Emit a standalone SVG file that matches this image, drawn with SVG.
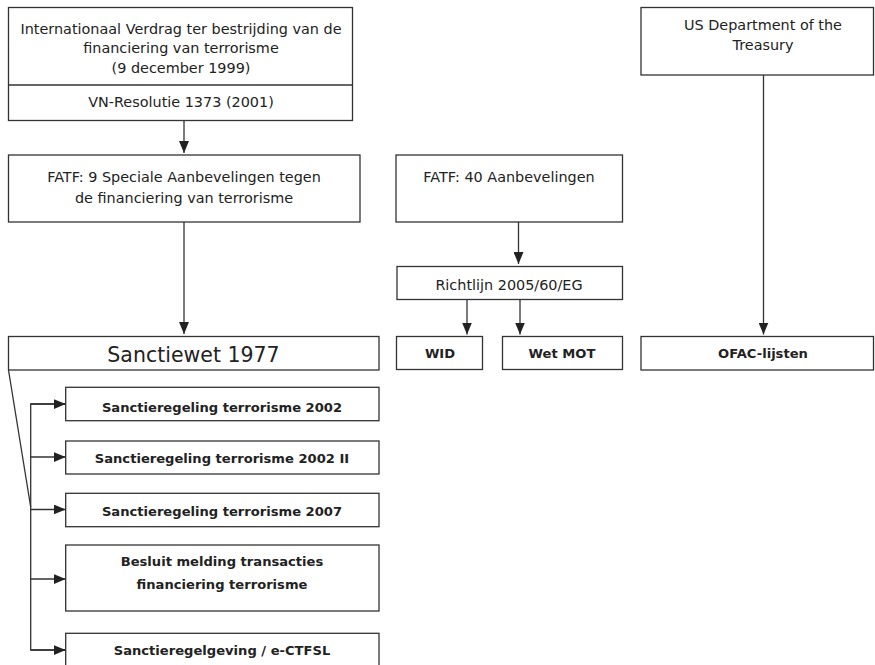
<svg xmlns="http://www.w3.org/2000/svg" width="875" height="665" viewBox="0 0 875 665">
<style>
rect{fill:#fff;stroke:#333;stroke-width:1.3}
text{font-family:"DejaVu Sans","Open Sans",sans-serif;fill:#222;text-anchor:middle;font-size:14.4px}
.b{font-weight:bold;font-size:13.1px}
.big{font-size:20.5px}
.c line,.c path{stroke:#333;stroke-width:1.3;fill:none}
</style>
<defs>
<marker id="ah" viewBox="0 0 12 10" refX="12" refY="5" markerWidth="12" markerHeight="10" markerUnits="userSpaceOnUse" orient="auto">
<path d="M0,0 L12,5 L0,10 Z" fill="#222"/>
</marker>
</defs>
<rect width="875" height="665" style="fill:#fff;stroke:none"/>
<g id="verdrag">
<rect x="8.5" y="7.5" width="344" height="113"/>
<line x1="8.5" y1="85" x2="352.5" y2="85" style="stroke:#333;stroke-width:1.3"/>
<text x="181" y="33.5">Internationaal Verdrag ter bestrijding van de</text>
<text x="181" y="53">financiering van terrorisme</text>
<text x="181" y="72.5">(9 december 1999)</text>
<text x="181" y="107">VN-Resolutie 1373 (2001)</text>
</g>
<g id="fatf9">
<rect x="8.5" y="155" width="351.5" height="67"/>
<text x="184" y="182">FATF: 9 Speciale Aanbevelingen tegen</text>
<text x="184" y="202.5">de financiering van terrorisme</text>
</g>
<g id="fatf40">
<rect x="396" y="155" width="226.5" height="67"/>
<text x="509" y="182">FATF: 40 Aanbevelingen</text>
</g>
<g id="richtlijn">
<rect x="397" y="266.5" width="225.5" height="33"/>
<text x="509" y="289.5">Richtlijn 2005/60/EG</text>
</g>
<g id="treasury">
<rect x="641" y="7.5" width="232.5" height="67.5"/>
<text x="763" y="29.5">US Department of the</text>
<text x="763" y="50">Treasury</text>
</g>
<g id="sanctiewet">
<rect x="8.5" y="336.5" width="370.5" height="33.5"/>
<text class="big" x="193.5" y="361.5">Sanctiewet 1977</text>
</g>
<g id="wid">
<rect x="396.5" y="336.5" width="86" height="33"/>
<text class="b" x="440" y="358">WID</text>
</g>
<g id="wetmot">
<rect x="502.5" y="336.5" width="120" height="33"/>
<text class="b" x="562" y="358">Wet MOT</text>
</g>
<g id="ofac">
<rect x="641" y="336.5" width="232.5" height="33.5"/>
<text class="b" x="763" y="358">OFAC-lijsten</text>
</g>
<g id="sr2002">
<rect x="65.7" y="387.3" width="313.3" height="33.4"/>
<text class="b" x="222" y="411.5">Sanctieregeling terrorisme 2002</text>
</g>
<g id="sr2002ii">
<rect x="65.7" y="441" width="313.3" height="33"/>
<text class="b" x="222" y="462.5">Sanctieregeling terrorisme 2002 II</text>
</g>
<g id="sr2007">
<rect x="65.7" y="493.3" width="313.3" height="33.4"/>
<text class="b" x="222" y="516">Sanctieregeling terrorisme 2007</text>
</g>
<g id="besluit">
<rect x="65.7" y="545" width="313.3" height="66"/>
<text class="b" x="222" y="565.5">Besluit melding transacties</text>
<text class="b" x="222" y="588.5">financiering terrorisme</text>
</g>
<g id="ctfsl">
<rect x="65.7" y="633.3" width="313.3" height="40"/>
<text class="b" x="222" y="655">Sanctieregelgeving / e-CTFSL</text>
</g>
<g class="c" id="connectors">
<line x1="184" y1="120.5" x2="184" y2="153" marker-end="url(#ah)"/>
<line x1="184" y1="222" x2="184" y2="334" marker-end="url(#ah)"/>
<line x1="518.5" y1="222" x2="518.5" y2="264" marker-end="url(#ah)"/>
<line x1="467" y1="299.5" x2="467" y2="334.5" marker-end="url(#ah)"/>
<line x1="520" y1="299.5" x2="520" y2="334.5" marker-end="url(#ah)"/>
<line x1="763.5" y1="75" x2="763.5" y2="334.5" marker-end="url(#ah)"/>
<path d="M8.5,370 L30.7,507"/>
<path d="M65,404 L30.7,404 L30.7,650 L65,650" />
<line x1="30.7" y1="404" x2="65.7" y2="404" marker-end="url(#ah)"/>
<line x1="30.7" y1="457" x2="65.7" y2="457" marker-end="url(#ah)"/>
<line x1="30.7" y1="509.5" x2="65.7" y2="509.5" marker-end="url(#ah)"/>
<line x1="30.7" y1="579" x2="65.7" y2="579" marker-end="url(#ah)"/>
<line x1="30.7" y1="650" x2="65.7" y2="650" marker-end="url(#ah)"/>
</g>
</svg>
